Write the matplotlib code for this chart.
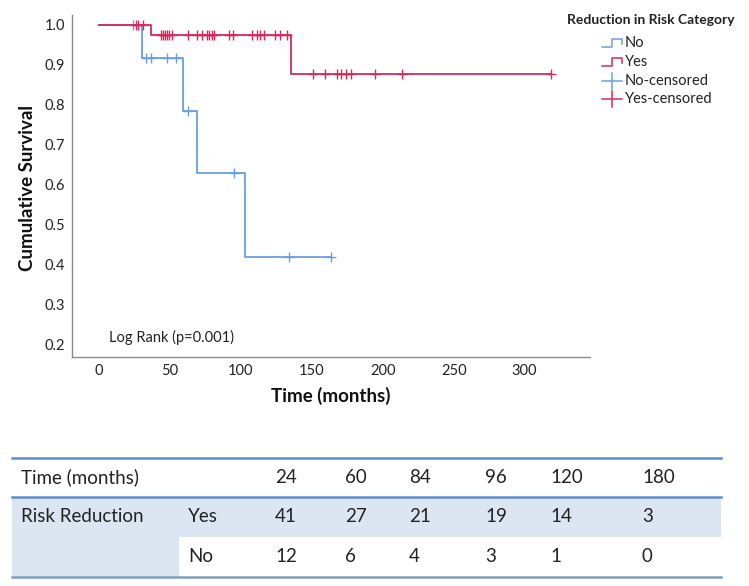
import matplotlib

matplotlib.use("Agg")
import matplotlib.pyplot as plt  # noqa: E402
import numpy as np  # noqa: E402
from matplotlib.lines import Line2D  # noqa: E402
from matplotlib.patches import Rectangle  # noqa: E402

# Kaplan-Meier curves
no_event_times = [30.6, 59.5, 69.4, 103.2]
no_surv = [0.917, 0.786, 0.629, 0.419]
no_last = 163.7
no_censored = [24.5, 33.5, 36.8, 48.5, 54.6, 63.2, 95.4, 134.4, 163.7]

yes_event_times = [37.0, 135.6]
yes_surv = [0.976, 0.878]
yes_last = 318.7
yes_censored = [26.5, 28.0, 31.5,
                44.0, 45.2, 46.8, 48.5, 49.9, 51.5, 63.2, 69.6, 72.7, 76.6,
                78.0, 79.7, 81.3, 92.1, 94.9, 108.3, 111.4, 113.7, 116.5,
                124.3, 127.8, 133.0,
                151.3, 159.5, 167.7, 170.6, 174.3, 178.0, 194.7, 213.7, 318.7]

# numbers at risk table
time_points = [24, 60, 84, 96, 120, 180]
at_risk_yes = [41, 27, 21, 19, 14, 3]
at_risk_no = [12, 6, 4, 3, 1, 0]

BLUE = "#6a9fdc"
RED = "#d42a5b"
FONT = "Lato"

W, H = 749, 586
fig = plt.figure(figsize=(W / 100, H / 100), dpi=100)
plt.rcParams["font.family"] = [FONT, "DejaVu Sans"]


def fx(px):
    return px / W


def fy(py):
    return 1 - py / H


def step_xy(times, surv, last):
    x = np.r_[0, times, last]
    y = np.r_[1.0, surv, surv[-1]]
    return x, y


def surv_at(times, surv, t):
    idx = np.searchsorted(times, t, side="right")
    levels = np.r_[1.0, surv]
    return levels[idx]


ax = fig.add_axes([fx(72), fy(357), fx(590 - 72), (357 - 15) / H])

for times, surv, last, cens, col in [
    (no_event_times, no_surv, no_last, no_censored, BLUE),
    (yes_event_times, yes_surv, yes_last, yes_censored, RED),
]:
    x, y = step_xy(times, surv, last)
    ax.plot(x, y, drawstyle="steps-post", color=col, lw=1.3)
    cy = surv_at(np.array(times), np.array(surv), np.array(cens))
    ax.plot(cens, cy, ls="none", marker="+", ms=7, mew=1.0, color=col)

ax.set_xlim(-18.7, 346)
ax.set_ylim(0.17, 1.025)
ax.set_xticks([0, 50, 100, 150, 200, 250, 300])
ax.set_yticks(np.arange(0.2, 1.01, 0.1))
ax.set_yticklabels([f"{v:.1f}" for v in np.arange(0.2, 1.01, 0.1)])
ax.tick_params(length=0, labelsize=10.5, colors="#222222", pad=5)
for s in ["top", "right"]:
    ax.spines[s].set_visible(False)
for s in ["left", "bottom"]:
    ax.spines[s].set_color("#8a8a8a")
    ax.spines[s].set_linewidth(1.0)

ax.text(7, 0.22, "Log Rank (p=0.001)", fontsize=10.5, color="#222222",
        va="center", ha="left")

fig.text(fx(28), fy(188), "Cumulative Survival", rotation=90, fontsize=13.5,
         fontweight="bold", ha="center", va="center", color="#111111")
fig.text(fx(331), fy(396), "Time (months)", fontsize=13.5, fontweight="bold",
         ha="center", va="center", color="#111111")

# legend drawn by hand
fig.text(fx(567), fy(20), "Reduction in Risk Category", fontsize=10,
         fontweight="bold", ha="left", va="center", color="#222222")
legend_rows = [("No", BLUE, "step", 43), ("Yes", RED, "step", 62),
               ("No-censored", BLUE, "cens", 81), ("Yes-censored", RED, "cens", 99)]
for label, col, kind, yy in legend_rows:
    if kind == "step":
        xs = [602, 612, 612, 622, 622]
        ys = [yy + 4, yy + 4, yy - 4, yy - 4, yy + 1]
        fig.add_artist(Line2D([fx(v) for v in xs], [fy(v) for v in ys],
                              color=col, lw=1.1))
    else:
        fig.add_artist(Line2D([fx(602), fx(622)], [fy(yy), fy(yy)], color=col, lw=1.1))
        fig.add_artist(Line2D([fx(612), fx(612)], [fy(yy - 8), fy(yy + 8)],
                              color=col, lw=1.1))
    fig.text(fx(625), fy(yy), label, fontsize=10.5, ha="left", va="center",
             color="#222222")

# numbers at risk table
TBL_BG = "#dce6f2"
fig.add_artist(Rectangle((fx(11.5), fy(537)), fx(721 - 11.5), (537 - 497) / H,
                         color=TBL_BG, lw=0))
fig.add_artist(Rectangle((fx(11.5), fy(577)), fx(179 - 11.5), (577 - 537) / H,
                         color=TBL_BG, lw=0))
for yy, col in [(458, "#5b8fc9"), (497, "#5b8fc9"), (577, "#7f9fc0")]:
    fig.add_artist(Line2D([fx(11.5), fx(721)], [fy(yy), fy(yy)], color=col, lw=1.8))

col_x = [275, 345, 409, 485, 550, 642]
row_y = [477.5, 517, 557]
tkw = dict(fontsize=13.5, ha="left", va="center", color="#222222")
fig.text(fx(21), fy(row_y[0]), "Time (months)", **tkw)
fig.text(fx(21), fy(row_y[1]), "Risk Reduction", **tkw)
fig.text(fx(188), fy(row_y[1]), "Yes", **tkw)
fig.text(fx(188), fy(row_y[2]), "No", **tkw)
for cx, t, ny, nn in zip(col_x, time_points, at_risk_yes, at_risk_no):
    fig.text(fx(cx), fy(row_y[0]), str(t), **tkw)
    fig.text(fx(cx), fy(row_y[1]), str(ny), **tkw)
    fig.text(fx(cx), fy(row_y[2]), str(nn), **tkw)

fig.savefig("out.png", dpi=100)
